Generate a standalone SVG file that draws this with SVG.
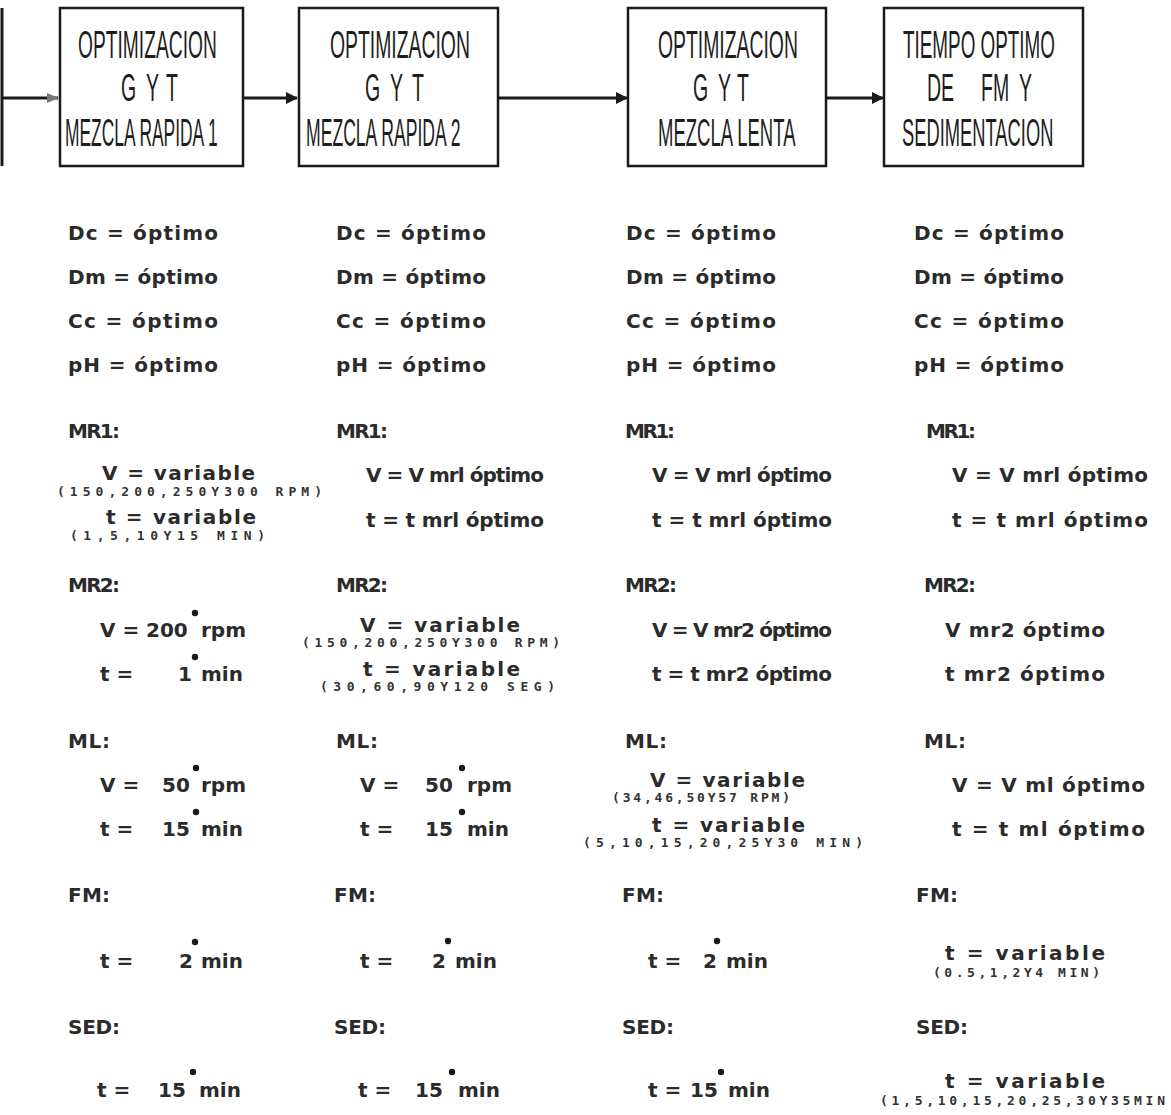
<svg xmlns="http://www.w3.org/2000/svg" width="1171" height="1115" viewBox="0 0 1171 1115">
<style>
.box{fill:#fff;stroke:#1a1a1a;stroke-width:2.5}
.bt{font-family:"Liberation Sans",Arial,sans-serif;font-size:39px;fill:#1e1e1e}
.t{font-family:"DejaVu Sans",sans-serif;font-weight:bold;font-size:20px;fill:#2b2b2b}
.s{font-family:"DejaVu Sans Mono",monospace;font-weight:bold;font-size:13px;fill:#333}
.ln{stroke:#1a1a1a;stroke-width:3;fill:none}
.dot{fill:#1a1a1a}
</style>
<defs>
<marker id="ah" markerWidth="12" markerHeight="12" refX="11" refY="6" orient="auto" markerUnits="userSpaceOnUse">
<path d="M0,0 L12,6 L0,12 Z" fill="#1a1a1a"/>
</marker>
<marker id="ahg" markerWidth="12" markerHeight="12" refX="11" refY="6" orient="auto" markerUnits="userSpaceOnUse">
<path d="M0,1 L12,6 L0,11 Z" fill="#777"/>
</marker>
</defs>
<rect width="1171" height="1115" fill="#fff"/>

<g id="connectors">
<line class="ln" x1="2" y1="8" x2="2" y2="166"/>
<line class="ln" x1="2" y1="98" x2="58" y2="98" marker-end="url(#ahg)"/>
<line class="ln" x1="244" y1="98" x2="297" y2="98" marker-end="url(#ah)"/>
<line class="ln" x1="499" y1="98" x2="627" y2="98" marker-end="url(#ah)"/>
<line class="ln" x1="827" y1="98" x2="883" y2="98" marker-end="url(#ah)"/>
</g>

<g id="box1">
<rect class="box" x="60" y="8" width="183" height="158"/>
<text class="bt" transform="translate(78,58) scale(0.493,1)">OPTIMIZACION</text>
<text class="bt" transform="translate(121,101) scale(0.5,1)">G</text>
<text class="bt" transform="translate(146,101) scale(0.5,1)">Y</text>
<text class="bt" transform="translate(166,101) scale(0.5,1)">T</text>
<text class="bt" transform="translate(65,146) scale(0.446,1)">MEZCLA RAPIDA 1</text>
</g>
<g id="box2">
<rect class="box" x="299" y="8" width="199" height="158"/>
<text class="bt" transform="translate(330,58) scale(0.497,1)">OPTIMIZACION</text>
<text class="bt" transform="translate(365,101) scale(0.5,1)">G</text>
<text class="bt" transform="translate(390,101) scale(0.5,1)">Y</text>
<text class="bt" transform="translate(412,101) scale(0.5,1)">T</text>
<text class="bt" transform="translate(306,146) scale(0.451,1)">MEZCLA RAPIDA 2</text>
</g>
<g id="box3">
<rect class="box" x="628" y="8" width="198" height="158"/>
<text class="bt" transform="translate(658,58) scale(0.497,1)">OPTIMIZACION</text>
<text class="bt" transform="translate(693,101) scale(0.5,1)">G</text>
<text class="bt" transform="translate(718,101) scale(0.5,1)">Y</text>
<text class="bt" transform="translate(737,101) scale(0.5,1)">T</text>
<text class="bt" transform="translate(658,146) scale(0.475,1)">MEZCLA LENTA</text>
</g>
<g id="box4">
<rect class="box" x="884" y="8" width="199" height="158"/>
<text class="bt" transform="translate(903,58) scale(0.484,1)">TIEMPO OPTIMO</text>
<text class="bt" transform="translate(927,101) scale(0.5,1)">DE</text>
<text class="bt" transform="translate(981,101) scale(0.5,1)">FM</text>
<text class="bt" transform="translate(1019,101) scale(0.5,1)">Y</text>
<text class="bt" transform="translate(902,146) scale(0.47,1)">SEDIMENTACION</text>
</g>

<g id="col1">
<text class="t" x="68" y="240" textLength="150">Dc = óptimo</text>
<text class="t" x="68" y="284" textLength="150">Dm = óptimo</text>
<text class="t" x="68" y="328" textLength="150">Cc = óptimo</text>
<text class="t" x="68" y="372" textLength="150">pH = óptimo</text>
<text class="t" x="68" y="438" textLength="52">MR1:</text>
<text class="t" x="102" y="480" textLength="153">V = variable</text>
<text class="s" x="57" y="496" textLength="265">(150,200,250Y300 RPM)</text>
<text class="t" x="106" y="524" textLength="150">t = variable</text>
<text class="s" x="70" y="540" textLength="195">(1,5,10Y15 MIN)</text>
<text class="t" x="68" y="592" textLength="52">MR2:</text>
<text class="t" y="637"><tspan x="100">V =</tspan><tspan x="146">200</tspan><tspan x="201">rpm</tspan></text>
<text class="t" y="681"><tspan x="100">t =</tspan><tspan x="178">1</tspan><tspan x="201">min</tspan></text>
<circle class="dot" cx="195" cy="613" r="3.2"/>
<circle class="dot" cx="195" cy="657" r="3.2"/>
<text class="t" x="68" y="748" textLength="42">ML:</text>
<text class="t" y="792"><tspan x="100">V =</tspan><tspan x="162">50</tspan><tspan x="201">rpm</tspan></text>
<text class="t" y="836"><tspan x="100">t =</tspan><tspan x="162">15</tspan><tspan x="201">min</tspan></text>
<circle class="dot" cx="196" cy="768" r="3.2"/>
<circle class="dot" cx="196" cy="812" r="3.2"/>
<text class="t" x="68" y="902" textLength="42">FM:</text>
<text class="t" y="968"><tspan x="100">t =</tspan><tspan x="179">2</tspan><tspan x="201">min</tspan></text>
<circle class="dot" cx="195" cy="942" r="3.2"/>
<text class="t" x="68" y="1034" textLength="52">SED:</text>
<text class="t" y="1097"><tspan x="97">t =</tspan><tspan x="158">15</tspan><tspan x="199">min</tspan></text>
<circle class="dot" cx="193" cy="1072" r="3.2"/>
</g>

<g id="col2">
<text class="t" x="336" y="240" textLength="150">Dc = óptimo</text>
<text class="t" x="336" y="284" textLength="150">Dm = óptimo</text>
<text class="t" x="336" y="328" textLength="150">Cc = óptimo</text>
<text class="t" x="336" y="372" textLength="150">pH = óptimo</text>
<text class="t" x="336" y="438" textLength="52">MR1:</text>
<text class="t" x="366" y="482" textLength="178">V = V mrl óptimo</text>
<text class="t" x="366" y="527" textLength="178">t = t mrl óptimo</text>
<text class="t" x="336" y="592" textLength="52">MR2:</text>
<text class="t" x="360" y="632" textLength="160">V = variable</text>
<text class="s" x="302" y="647" textLength="258">(150,200,250Y300 RPM)</text>
<text class="t" x="363" y="676" textLength="157">t = variable</text>
<text class="s" x="320" y="691" textLength="235">(30,60,90Y120 SEG)</text>
<text class="t" x="336" y="748" textLength="42">ML:</text>
<text class="t" y="792"><tspan x="360">V =</tspan><tspan x="425">50</tspan><tspan x="467">rpm</tspan></text>
<text class="t" y="836"><tspan x="360">t =</tspan><tspan x="425">15</tspan><tspan x="467">min</tspan></text>
<circle class="dot" cx="462" cy="768" r="3.2"/>
<circle class="dot" cx="462" cy="812" r="3.2"/>
<text class="t" x="334" y="902" textLength="42">FM:</text>
<text class="t" y="968"><tspan x="360">t =</tspan><tspan x="432">2</tspan><tspan x="455">min</tspan></text>
<circle class="dot" cx="448" cy="941" r="3.2"/>
<text class="t" x="334" y="1034" textLength="52">SED:</text>
<text class="t" y="1097"><tspan x="358">t =</tspan><tspan x="415">15</tspan><tspan x="458">min</tspan></text>
<circle class="dot" cx="452" cy="1072" r="3.2"/>
</g>

<g id="col3">
<text class="t" x="626" y="240" textLength="150">Dc = óptimo</text>
<text class="t" x="626" y="284" textLength="150">Dm = óptimo</text>
<text class="t" x="626" y="328" textLength="150">Cc = óptimo</text>
<text class="t" x="626" y="372" textLength="150">pH = óptimo</text>
<text class="t" x="625" y="438" textLength="50">MR1:</text>
<text class="t" x="652" y="482" textLength="180">V = V mrl óptimo</text>
<text class="t" x="652" y="527" textLength="180">t = t mrl óptimo</text>
<text class="t" x="625" y="592" textLength="52">MR2:</text>
<text class="t" x="652" y="637" textLength="180">V = V mr2 óptimo</text>
<text class="t" x="652" y="681" textLength="180">t = t mr2 óptimo</text>
<text class="t" x="625" y="748" textLength="42">ML:</text>
<text class="t" x="650" y="787" textLength="155">V = variable</text>
<text class="s" x="612" y="802" textLength="178">(34,46,50Y57 RPM)</text>
<text class="t" x="652" y="832" textLength="153">t = variable</text>
<text class="s" x="583" y="847" textLength="280">(5,10,15,20,25Y30 MIN)</text>
<text class="t" x="622" y="902" textLength="42">FM:</text>
<text class="t" y="968"><tspan x="648">t =</tspan><tspan x="703">2</tspan><tspan x="726">min</tspan></text>
<circle class="dot" cx="717" cy="941" r="3.2"/>
<text class="t" x="622" y="1034" textLength="52">SED:</text>
<text class="t" y="1097"><tspan x="648">t =</tspan><tspan x="690">15</tspan><tspan x="728">min</tspan></text>
<circle class="dot" cx="721" cy="1072" r="3.2"/>
</g>

<g id="col4">
<text class="t" x="914" y="240" textLength="150">Dc = óptimo</text>
<text class="t" x="914" y="284" textLength="150">Dm = óptimo</text>
<text class="t" x="914" y="328" textLength="150">Cc = óptimo</text>
<text class="t" x="914" y="372" textLength="150">pH = óptimo</text>
<text class="t" x="926" y="438" textLength="50">MR1:</text>
<text class="t" x="952" y="482" textLength="196">V = V mrl óptimo</text>
<text class="t" x="952" y="527" textLength="196">t = t mrl óptimo</text>
<text class="t" x="924" y="592" textLength="52">MR2:</text>
<text class="t" x="945" y="637" textLength="160">V mr2 óptimo</text>
<text class="t" x="945" y="681" textLength="160">t mr2 óptimo</text>
<text class="t" x="924" y="748" textLength="42">ML:</text>
<text class="t" x="952" y="792" textLength="193">V = V ml óptimo</text>
<text class="t" x="952" y="836" textLength="193">t = t ml óptimo</text>
<text class="t" x="916" y="902" textLength="42">FM:</text>
<text class="t" x="945" y="960" textLength="160">t = variable</text>
<text class="s" x="933" y="977" textLength="167">(0.5,1,2Y4 MIN)</text>
<text class="t" x="916" y="1034" textLength="52">SED:</text>
<text class="t" x="945" y="1088" textLength="160">t = variable</text>
<text class="s" x="880" y="1105" textLength="285">(1,5,10,15,20,25,30Y35MIN</text>
</g>
</svg>
